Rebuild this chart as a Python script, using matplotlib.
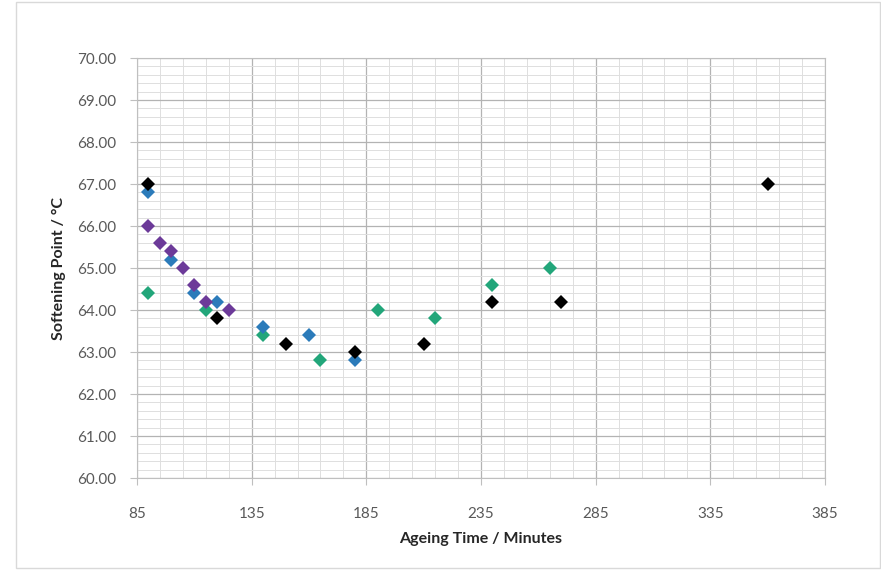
import matplotlib
matplotlib.use("Agg")
import matplotlib.pyplot as plt
from matplotlib.ticker import FixedLocator, FormatStrFormatter, MultipleLocator
from matplotlib.patches import Rectangle

plt.rcParams['font.family'] = ['Lato', 'DejaVu Sans']

black_x = [90, 120, 150, 180, 210, 240, 270, 360]
black_y = [67.0, 63.8, 63.2, 63.0, 63.2, 64.2, 64.2, 67.0]
blue_x = [90, 100, 110, 120, 140, 160, 180]
blue_y = [66.8, 65.2, 64.4, 64.2, 63.6, 63.4, 62.8]
green_x = [90, 115, 140, 165, 190, 215, 240, 265]
green_y = [64.4, 64.0, 63.4, 62.8, 64.0, 63.8, 64.6, 65.0]
purple_x = [90, 95, 100, 105, 110, 115, 125]
purple_y = [66.0, 65.6, 65.4, 65.0, 64.6, 64.2, 64.0]

x_major = [85, 135, 185, 235, 285, 335, 385]

fig = plt.figure(figsize=(8.81, 5.70), dpi=100)
fig.patches.append(Rectangle((16/881, 2/570), 1 - 17/881, 1 - 4/570,
                             transform=fig.transFigure, fill=False,
                             edgecolor='#d9d9d9', linewidth=1.0))
ax = fig.add_axes([137/881, 1 - 478/570, 688/881, 420/570])

ax.set_xlim(85, 385)
ax.set_ylim(60, 70)
ax.xaxis.set_major_locator(FixedLocator(x_major))
ax.xaxis.set_minor_locator(FixedLocator([v for v in range(95, 385, 10)]))
ax.yaxis.set_major_locator(MultipleLocator(1))
ax.yaxis.set_minor_locator(MultipleLocator(0.2))
ax.yaxis.set_major_formatter(FormatStrFormatter('%.2f'))

ax.grid(which='major', color='#b3b3b3', linewidth=0.9)
ax.grid(which='minor', color='#dedede', linewidth=0.7)
ax.set_axisbelow(True)
for s in ax.spines.values():
    s.set_color('#bfbfbf')
    s.set_linewidth(0.8)

ax.tick_params(which='major', direction='out', length=5, color='#bfbfbf',
               labelcolor='#595959', labelsize=11)
ax.tick_params(axis='y', which='major', pad=10)
ax.tick_params(axis='x', which='major', pad=16)
ax.tick_params(which='minor', length=0)

ms = 7
ax.plot(green_x, green_y, 'D', color='#22a67a', markersize=ms, markeredgewidth=0)
ax.plot(blue_x, blue_y, 'D', color='#2b7bba', markersize=ms, markeredgewidth=0)
ax.plot(purple_x, purple_y, 'D', color='#6c3a99', markersize=ms, markeredgewidth=0)
ax.plot(black_x, black_y, 'D', color='#000000', markersize=ms, markeredgewidth=0)

ax.set_xlabel('Ageing Time / Minutes', fontsize=11.5, fontweight='bold', color='#262626', labelpad=8)
ax.set_ylabel('Softening Point / °C', fontsize=11.5, fontweight='bold', color='#262626', labelpad=8)

fig.savefig('out.png', dpi=100)
